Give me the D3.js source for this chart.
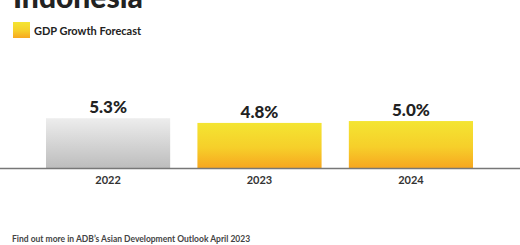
<!DOCTYPE html>
<html>
<head>
<meta charset="utf-8">
<script src="https://cdn.jsdelivr.net/npm/d3@7"></script>
<style>
  body { margin: 0; background: #fff; }
  svg { display: block; font-family: Lato, "Open Sans", sans-serif; }
</style>
</head>
<body>
<svg width="520" height="245"></svg>
<script>
var years = ["2022", "2023", "2024"]
var growth = [5.3, 4.8, 5.0]
var labels = ["5.3%", "4.8%", "5.0%"]
var kind = ["actual", "forecast", "forecast"]

var svg = d3.select("svg"),
  margin = {top: 60, right: 0, bottom: 77, left: 0},
  width = +svg.attr("width") - margin.left - margin.right,
  height = +svg.attr("height") - margin.top - margin.bottom

var defs = svg.append("defs")
var gGrey = defs.append("linearGradient").attr("id", "grey").attr("x1", 0).attr("x2", 0).attr("y1", 0).attr("y2", 1)
gGrey.append("stop").attr("offset", "0%").attr("stop-color", "#ededed")
gGrey.append("stop").attr("offset", "100%").attr("stop-color", "#bdbdbd")
var gYellow = defs.append("linearGradient").attr("id", "yellow").attr("x1", 0).attr("x2", 0).attr("y1", 0).attr("y2", 1)
gYellow.append("stop").attr("offset", "0%").attr("stop-color", "#f4e532")
gYellow.append("stop").attr("offset", "55%").attr("stop-color", "#f6cf2a")
gYellow.append("stop").attr("offset", "100%").attr("stop-color", "#f7a720")

// title, cut off by the top edge as in the source image
svg.append("text")
  .attr("x", 13).attr("y", 8)
  .attr("font-size", 30).attr("font-weight", 900).attr("fill", "#222")
  .text("Indonesia")

// legend
svg.append("rect").attr("x", 13).attr("y", 22).attr("width", 17).attr("height", 16).attr("fill", "url(#yellow)")
svg.append("text")
  .attr("x", 34).attr("y", 35)
  .attr("font-size", 11).attr("font-weight", 700).attr("fill", "#222")
  .text("GDP Growth Forecast")

var g = svg.append("g").attr("transform", "translate(" + margin.left + "," + margin.top + ")")

var x = d3.scaleBand()
  .domain(years)
  .range([46, 473])
  .paddingInner(0.18)

var y = d3.scaleLinear()
  .domain([0, 11.5])
  .range([height, 0])

g.selectAll(".bar")
  .data(years)
  .enter().append("rect")
  .attr("class", "bar")
  .attr("x", d => x(d))
  .attr("y", (d, i) => y(growth[i]))
  .attr("width", x.bandwidth())
  .attr("height", (d, i) => height - y(growth[i]))
  .attr("fill", (d, i) => kind[i] == "actual" ? "url(#grey)" : "url(#yellow)")

g.selectAll(".val")
  .data(years)
  .enter().append("text")
  .attr("class", "val")
  .attr("x", d => x(d) + x.bandwidth() / 2)
  .attr("y", (d, i) => y(growth[i]) - 5)
  .attr("text-anchor", "middle")
  .attr("font-size", 17).attr("font-weight", 900).attr("fill", "#222")
  .text((d, i) => labels[i])

g.append("line")
  .attr("x1", 0).attr("x2", width)
  .attr("y1", height + 0.5).attr("y2", height + 0.5)
  .attr("stroke", "#777").attr("stroke-width", 1.6)

g.selectAll(".yr")
  .data(years)
  .enter().append("text")
  .attr("class", "yr")
  .attr("x", d => x(d) + x.bandwidth() / 2)
  .attr("y", height + 16)
  .attr("text-anchor", "middle")
  .attr("font-size", 11).attr("font-weight", 700).attr("fill", "#333")
  .text(d => d)

svg.append("text")
  .attr("x", 12).attr("y", 242)
  .attr("font-size", 8.5).attr("font-weight", 700).attr("fill", "#444")
  .text("Find out more in ADB\u2019s Asian Development Outlook April 2023")
</script>
</body>
</html>
